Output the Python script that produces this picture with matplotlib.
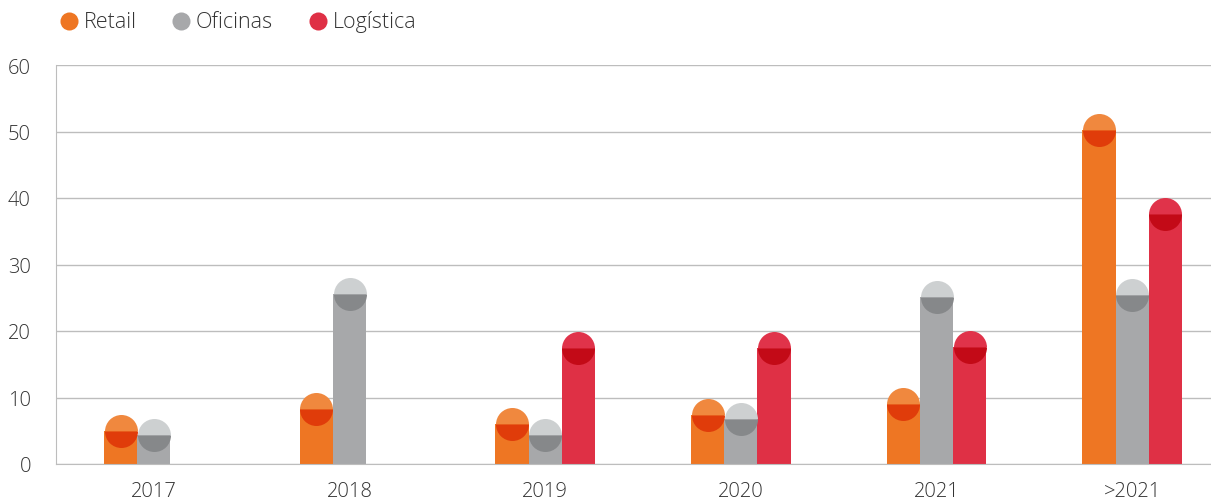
import matplotlib
matplotlib.use("Agg")
import matplotlib.pyplot as plt
from matplotlib.lines import Line2D
import numpy as np

plt.rcParams['font.family'] = ['Open Sans', 'DejaVu Sans']

categories = ["2017", "2018", "2019", "2020", "2021", ">2021"]
series_names = ["Retail", "Oficinas", "Logística"]
retail = [4.9, 8.3, 6.0, 7.3, 9.0, 50.2]
oficinas = [4.3, 25.6, 4.3, 6.7, 25.1, 25.4]
logistica = [0, 0, 17.4, 17.4, 17.6, 37.6]
y_ticks = [0, 10, 20, 30, 40, 50, 60]

bar_colors = ["#EE7623", "#A7A8AA", "#DF3045"]
cap_top = ["#F0883E", "#CDD0D1", "#E0334A"]
cap_bottom = ["#E03C0A", "#86888A", "#C30A17"]

W, H = 1211, 502
fig = plt.figure(figsize=(W / 100, H / 100), dpi=100)
# the category band runs past the right edge of the canvas
ax = fig.add_axes([56 / W, 1 - 465 / H, 1174 / W, 399 / H])

x = np.arange(len(categories))
w = 0.17
diam_pt = 33 * 72 / 100

for i, vals in enumerate([retail, oficinas, logistica]):
    xs = x + (i - 1) * w
    ax.bar(xs, vals, width=w, color=bar_colors[i], zorder=2, linewidth=0)
    for xv, v in zip(xs, vals):
        if v > 0:
            ax.plot([xv], [v], marker='o', markersize=diam_pt, fillstyle='top',
                    markerfacecolor=cap_top[i], markerfacecoloralt=cap_bottom[i],
                    markeredgewidth=0, linestyle='none', zorder=3, clip_on=False)

ax.set_xlim(-0.5, len(categories) - 0.5)
ax.set_ylim(0, 60)
ax.set_yticks(y_ticks)
ax.set_xticks(x)
ax.set_xticklabels(categories)
ax.grid(axis='y', color='#BDBDBD', linewidth=1, zorder=0)
ax.set_axisbelow(True)
for s in ['top', 'right']:
    ax.spines[s].set_visible(False)
ax.spines['left'].set_color('#BDBDBD')
ax.spines['bottom'].set_color('#BDBDBD')
ax.tick_params(axis='both', length=0, labelsize=14.5, labelcolor='#333333')
ax.tick_params(axis='y', pad=18)
ax.tick_params(axis='x', pad=12)
for lbl in ax.get_xticklabels() + ax.get_yticklabels():
    lbl.set_fontweight('light')

# legend: colored dots followed by series names
legend_dot_x = [69, 181, 318]
legend_y = 22
for px, name, c in zip(legend_dot_x, series_names, bar_colors):
    fig.add_artist(Line2D([px / W], [1 - legend_y / H], transform=fig.transFigure,
                          marker='o', markersize=13, markerfacecolor=c,
                          markeredgewidth=0, linestyle='none'))
    fig.text((px + 15) / W, 1 - legend_y / H, name, fontsize=15.5,
             fontweight='light', color='#333333', va='center', ha='left')

fig.savefig("out.png", dpi=100)
